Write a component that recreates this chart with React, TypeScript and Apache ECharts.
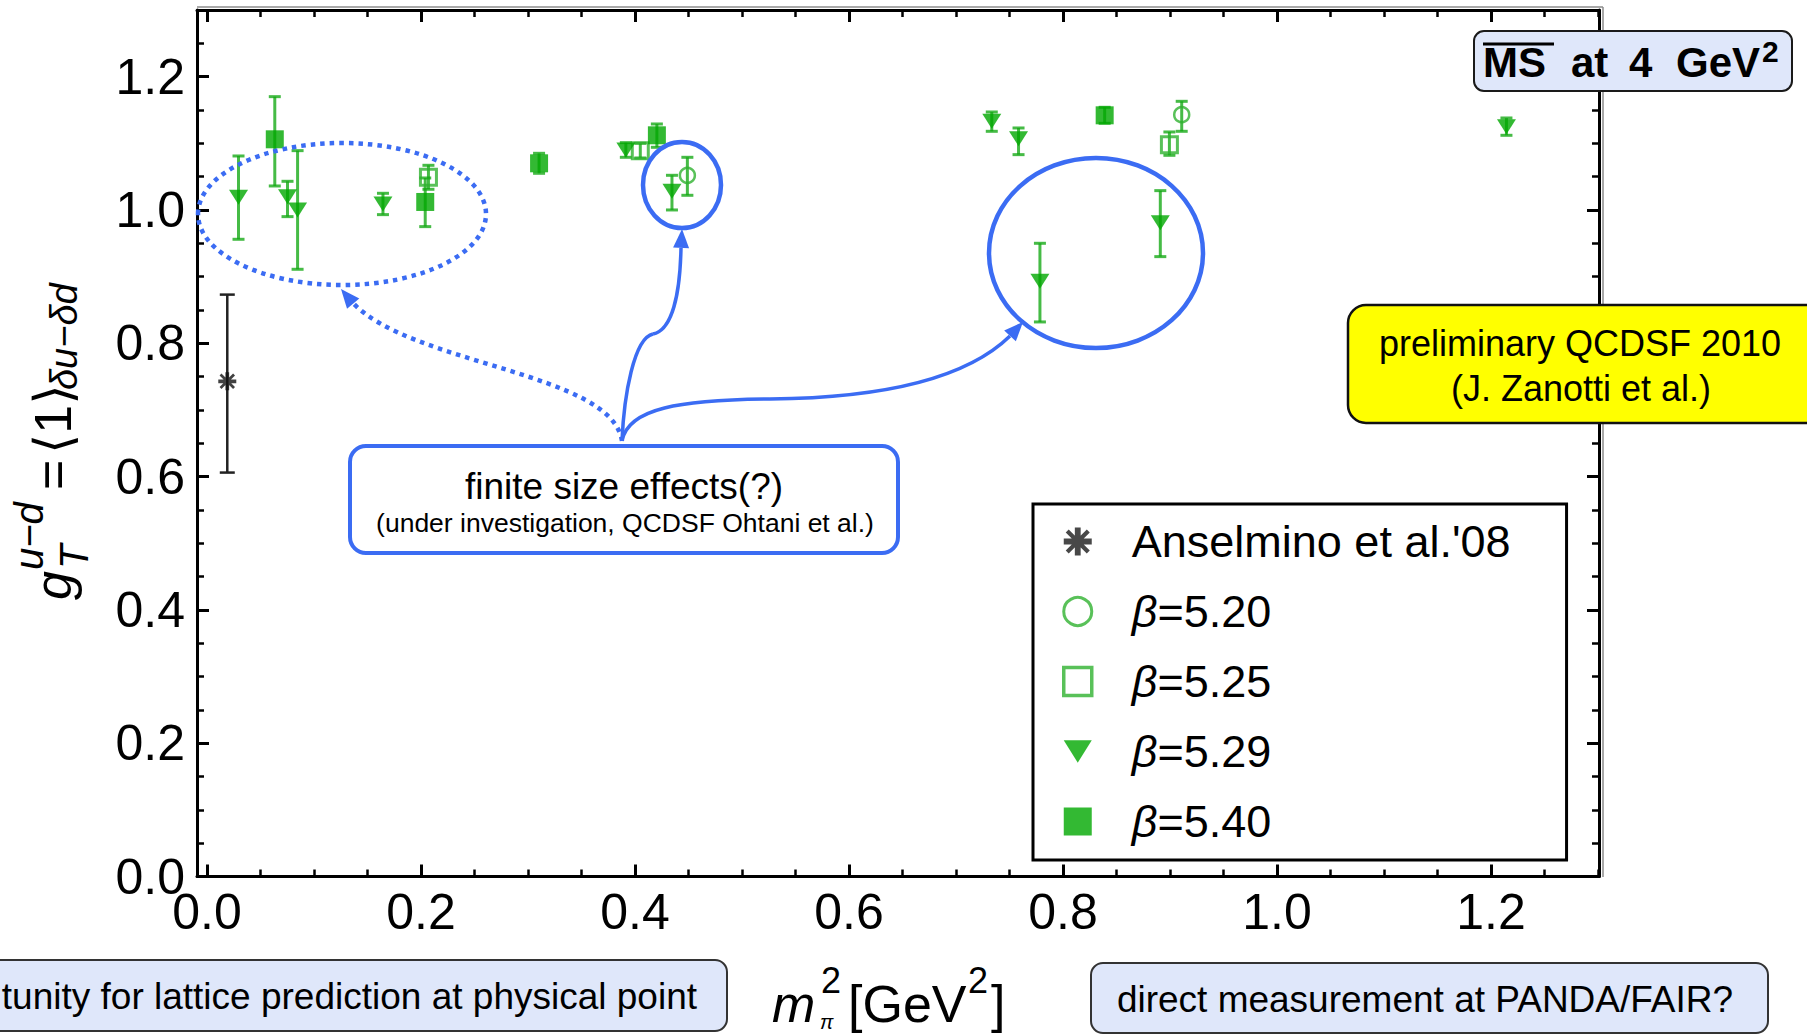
import React, { useEffect, useRef } from "react";
import * as echarts from "echarts";

const FONT = "'Liberation Sans', Arial, Helvetica, sans-serif";
const MATH_FONT = "'Liberation Sans', 'DejaVu Sans', sans-serif";

// Each point: [m_pi^2 (GeV^2), g_T, lower limit, upper limit]
const anselmino08 = [[0.019, 0.743, 0.606, 0.873]];
const beta520 = [
  [0.449, 1.052, 1.022, 1.079],
  [0.911, 1.143, 1.118, 1.163],
];
const beta525 = [
  [0.207, 1.049, 1.031, 1.067],
  [0.405, 1.089, 1.078, 1.1],
  [0.8995, 1.098, 1.082, 1.117],
];
const beta529 = [
  [0.0295, 1.019, 0.956, 1.081],
  [0.0753, 1.02, 0.99, 1.043],
  [0.0847, 1.0, 0.911, 1.089],
  [0.1645, 1.009, 0.993, 1.025],
  [0.3915, 1.09, 1.079, 1.101],
  [0.4346, 1.028, 1.0, 1.052],
  [0.7335, 1.133, 1.118, 1.147],
  [0.7585, 1.107, 1.083, 1.123],
  [0.7785, 0.893, 0.832, 0.95],
  [0.891, 0.981, 0.93, 1.029],
  [1.2145, 1.125, 1.112, 1.138],
];
const beta540 = [
  [0.0634, 1.106, 1.036, 1.17],
  [0.204, 1.012, 0.975, 1.048],
  [0.3104, 1.07, 1.055, 1.085],
  [0.4205, 1.112, 1.094, 1.129],
  [0.839, 1.142, 1.13, 1.154],
];

const seriesNames = ["Anselmino et al.'08", "β=5.20", "β=5.25", "β=5.29", "β=5.40"];

const X_MIN = -0.0093;
const X_MAX = 1.301;
const Y_MIN = 0;
const Y_MAX = 1.3;

const GREEN = "#00a800";
const OPEN_GREEN = "#2fb22f";
const BAR_GREEN = "rgba(18,168,18,0.78)";
const BLUE = "#3b6cf3";
const PANEL_BLUE = "#dfe7fa";

const STAR =
  "path://M9.5,0H14.5V24H9.5Z M0,9.5H24V14.5H0Z M4.25,1.7L22.3,19.75L19.75,22.3L1.7,4.25Z M19.75,1.7L22.3,4.25L4.25,22.3L1.7,19.75Z";
const DOWN_TRIANGLE = "path://M0,0L20,0L10,16Z";

function errorBars(name: string, data: number[][], color: string, cap: number, width: number) {
  return {
    type: "custom",
    name: name + " error",
    silent: true,
    z: 3,
    data: data.map((d) => [d[0], d[2], d[3]]),
    encode: { x: 0, y: [1, 2] },
    renderItem: (_params: any, api: any) => {
      const x = api.value(0);
      const lo = api.coord([x, api.value(1)]);
      const hi = api.coord([x, api.value(2)]);
      const style = { stroke: color, lineWidth: width };
      return {
        type: "group",
        children: [
          { type: "line", shape: { x1: lo[0], y1: lo[1], x2: hi[0], y2: hi[1] }, style },
          { type: "line", shape: { x1: lo[0] - cap, y1: lo[1], x2: lo[0] + cap, y2: lo[1] }, style },
          { type: "line", shape: { x1: hi[0] - cap, y1: hi[1], x2: hi[0] + cap, y2: hi[1] }, style },
        ],
      };
    },
  };
}

function points(name: string, data: number[][], symbol: string, size: any, itemStyle: any) {
  return {
    type: "scatter",
    name,
    z: 5,
    symbol,
    symbolSize: size,
    itemStyle,
    data: data.map((d) => [d[0], d[1]]),
  };
}

// text placed by its alphabetic baseline
function baseText(text: string, x: number, yb: number, size: number, opts: any = {}) {
  return {
    type: "text",
    x,
    y: yb - 0.35 * size,
    z: 120,
    style: {
      text,
      fill: "#000",
      fontSize: size,
      fontFamily: opts.family || MATH_FONT,
      fontStyle: opts.italic ? "italic" : "normal",
      fontWeight: opts.bold ? "bold" : "normal",
      align: opts.align || "left",
      textAlign: opts.align || "left",
      verticalAlign: "middle",
      textVerticalAlign: "middle",
    },
  };
}

function centerText(text: string, x: number, y: number, size: number, opts: any = {}) {
  return {
    type: "text",
    x,
    y,
    z: 120,
    style: {
      text,
      fill: "#000",
      fontSize: size,
      fontFamily: FONT,
      fontWeight: opts.bold ? "bold" : "normal",
      align: opts.align || "center",
      textAlign: opts.align || "center",
      verticalAlign: "middle",
      textVerticalAlign: "middle",
    },
  };
}

function box(x: number, y: number, w: number, h: number, r: number, fill: string, stroke: string, lw: number) {
  return {
    type: "rect",
    z: 100,
    shape: { x, y, width: w, height: h, r },
    style: { fill, stroke, lineWidth: lw },
  };
}

function arrowHead(tip: number[], from: number[], len = 19, half = 8) {
  const dx = tip[0] - from[0];
  const dy = tip[1] - from[1];
  const l = Math.hypot(dx, dy);
  const ux = dx / l;
  const uy = dy / l;
  const bx = tip[0] - ux * len;
  const by = tip[1] - uy * len;
  return {
    type: "polygon",
    z: 105,
    shape: { points: [tip, [bx - uy * half, by + ux * half], [bx + uy * half, by - ux * half]] },
    style: { fill: BLUE },
  };
}

function curve(p0: number[], c1: number[], c2: number[], p1: number[], dashed = false) {
  return {
    type: "bezierCurve",
    z: 104,
    shape: { x1: p0[0], y1: p0[1], cpx1: c1[0], cpy1: c1[1], cpx2: c2[0], cpy2: c2[1], x2: p1[0], y2: p1[1] },
    style: dashed
      ? { stroke: BLUE, fill: "none", lineWidth: 4.5, lineDash: [4.5, 5] }
      : { stroke: BLUE, fill: "none", lineWidth: 3.5 },
  };
}

function ring(cx: number, cy: number, rx: number, ry: number, dashed = false) {
  return {
    type: "ellipse",
    z: 104,
    shape: { cx, cy, rx, ry },
    style: dashed
      ? { stroke: BLUE, fill: "none", lineWidth: 4.5, lineDash: [4.5, 5] }
      : { stroke: BLUE, fill: "none", lineWidth: 4.5 },
  };
}

const graphics: any[] = [
  // thin outer edge around the frame
  { type: "line", z: 90, shape: { x1: 197, y1: 7, x2: 1603, y2: 7 }, style: { stroke: "#8c8c8c", lineWidth: 1.5 } },
  { type: "line", z: 90, shape: { x1: 1603, y1: 7, x2: 1603, y2: 877 }, style: { stroke: "#8c8c8c", lineWidth: 1.5 } },

  // highlighted groups of points
  ring(342, 214, 144, 71, true),
  ring(682, 185, 39, 43),
  ring(1096, 253, 107, 95),

  // arrows from the note box
  curve([622, 441], [612, 372], [410, 365], [352, 302], true),
  arrowHead([341, 289], [356, 307]),
  curve([622, 441], [624, 395], [634, 338], [653, 334]),
  curve([653, 334], [672, 330], [680, 295], [681, 248]),
  arrowHead([682, 229], [681, 250]),
  curve([622, 441], [628, 408], [680, 400], [770, 399]),
  curve([770, 399], [880, 398], [965, 380], [1010, 336]),
  arrowHead([1023, 322], [1008, 338]),

  // note box
  box(350, 446, 548, 107, 16, "#ffffff", BLUE, 4),
  centerText("finite size effects(?)", 624, 486, 37),
  centerText("(under investigation, QCDSF Ohtani et al.)", 625, 523, 26.5),

  // scheme box
  box(1474, 31, 318, 60, 10, PANEL_BLUE, "#1a1a1a", 2),
  baseText("MS", 1483, 77, 42, { family: FONT, bold: true }),
  { type: "line", z: 121, shape: { x1: 1483, y1: 44, x2: 1554, y2: 44 }, style: { stroke: "#000", lineWidth: 3 } },
  baseText("at", 1571, 77, 42, { family: FONT, bold: true }),
  baseText("4", 1629, 77, 42, { family: FONT, bold: true }),
  baseText("GeV", 1676, 77, 42, { family: FONT, bold: true }),
  baseText("2", 1762, 62, 30, { family: FONT, bold: true }),

  // source box
  box(1348, 305, 490, 118, 18, "#ffff00", "#111", 2.5),
  centerText("preliminary QCDSF 2010", 1580, 343, 36),
  centerText("(J. Zanotti et al.)", 1581, 388, 36),

  // bottom notes
  box(-30, 960, 757, 71, 12, PANEL_BLUE, "#333", 2),
  centerText("tunity for lattice prediction at physical point", 697, 996, 37, { align: "right" }),
  box(1091, 963, 677, 70, 12, PANEL_BLUE, "#333", 2),
  centerText("direct measurement at PANDA/FAIR?", 1425, 999, 37),

  // x-axis title: m_pi^2 [GeV^2]
  baseText("m", 772, 1022, 52, { italic: true }),
  baseText("2", 821, 993, 36),
  baseText("π", 820, 1029, 20, { italic: true }),
  baseText("[GeV", 848, 1022, 52),
  baseText("2", 968, 993, 36),
  baseText("]", 991, 1022, 52),

  // y-axis title: g_T^{u-d} = <1>_{du-dd}, reading upward
  {
    type: "group",
    x: 71,
    y: 600,
    rotation: Math.PI / 2,
    z: 120,
    children: [
      baseText("g", 0, 0, 52, { italic: true }),
      baseText("T", 31, 17, 40, { italic: true }),
      baseText("u−d", 30, -28, 40, { italic: true }),
      baseText("=", 110, 0, 52),
      baseText("⟨1⟩", 146, 0, 52),
      baseText("δu−δd", 210, 6, 38, { italic: true }),
    ],
  },
];

const axisCommon = {
  type: "value",
  min: X_MIN,
  max: X_MAX,
  splitNumber: 6,
  splitLine: { show: false },
  axisLine: { show: true, onZero: false, lineStyle: { color: "#000", width: 3 } },
  axisTick: { show: true, inside: true, length: 12, lineStyle: { color: "#000", width: 3 } },
  minorTick: { show: true, splitNumber: 4, length: 7, lineStyle: { color: "#000", width: 2.5 } },
  minorSplitLine: { show: false },
};

const yCommon = {
  type: "value",
  min: Y_MIN,
  max: Y_MAX,
  interval: 0.2,
  splitLine: { show: false },
  axisLine: { show: true, onZero: false, lineStyle: { color: "#000", width: 3 } },
  axisTick: { show: true, inside: true, length: 12, lineStyle: { color: "#000", width: 3 } },
  minorTick: { show: true, splitNumber: 4, length: 7, lineStyle: { color: "#000", width: 2.5 } },
  minorSplitLine: { show: false },
};

const option: any = {
  animation: false,
  backgroundColor: "#ffffff",
  grid: { left: 197, top: 10, width: 1402, height: 866.5, containLabel: false, outerBoundsMode: "none" },
  xAxis: [
    {
      ...axisCommon,
      position: "bottom",
      axisLabel: {
        show: true,
        margin: 10,
        fontSize: 50,
        fontFamily: FONT,
        color: "#000",
        showMinLabel: false,
        showMaxLabel: false,
        formatter: (v: number) => v.toFixed(1),
      },
    },
    { ...axisCommon, position: "top", axisLabel: { show: false } },
  ],
  yAxis: [
    {
      ...yCommon,
      position: "left",
      axisLabel: {
        show: true,
        margin: 12,
        fontSize: 50,
        fontFamily: FONT,
        color: "#000",
        showMaxLabel: false,
        formatter: (v: number) => v.toFixed(1),
      },
    },
    { ...yCommon, position: "right", axisLabel: { show: false } },
  ],
  legend: {
    data: [
      { name: seriesNames[0], icon: STAR, itemStyle: { color: "#1a1a1a", borderWidth: 0 } },
      { name: seriesNames[1], icon: "circle", itemStyle: { color: "rgba(255,255,255,0)", borderColor: OPEN_GREEN, borderWidth: 3 } },
      { name: seriesNames[2], icon: "rect", itemStyle: { color: "rgba(255,255,255,0)", borderColor: OPEN_GREEN, borderWidth: 3.5 } },
      { name: seriesNames[3], icon: DOWN_TRIANGLE, itemStyle: { color: GREEN, borderWidth: 0 } },
      { name: seriesNames[4], icon: "rect", itemStyle: { color: GREEN, borderWidth: 0 } },
    ],
    orient: "vertical",
    left: 1033,
    top: 504,
    padding: [15, 56, 16, 29],
    itemGap: 25,
    itemWidth: 28,
    itemHeight: 28,
    borderColor: "#000",
    borderWidth: 3,
    backgroundColor: "#fff",
    selectedMode: false,
    z: 50,
    formatter: (name: string) => (name.startsWith("β") ? "{b|β}" + name.slice(1) : name),
    textStyle: {
      fontFamily: FONT,
      fontSize: 45,
      color: "#000",
      padding: [0, 0, 0, 35],
      rich: { b: { fontFamily: FONT, fontSize: 45, fontStyle: "italic", color: "#000" } },
    },
  },
  graphic: graphics,
  series: [
    errorBars(seriesNames[0], anselmino08, "#222", 7.5, 2.5),
    errorBars(seriesNames[1], beta520, BAR_GREEN, 6, 3),
    errorBars(seriesNames[2], beta525, BAR_GREEN, 6, 3),
    errorBars(seriesNames[3], beta529, BAR_GREEN, 6, 3),
    errorBars(seriesNames[4], beta540, BAR_GREEN, 6, 3),
    points(seriesNames[0], anselmino08, STAR, 18, { color: "#111" }),
    points(seriesNames[1], beta520, "circle", 15, { color: "rgba(255,255,255,0)", borderColor: OPEN_GREEN, borderWidth: 2.5 }),
    points(seriesNames[2], beta525, "rect", 16, { color: "rgba(255,255,255,0)", borderColor: OPEN_GREEN, borderWidth: 3 }),
    points(seriesNames[3], beta529, DOWN_TRIANGLE, [19, 15], { color: GREEN }),
    points(seriesNames[4], beta540, "rect", 18, { color: GREEN }),
  ],
};

export default function App() {
  const ref = useRef<HTMLDivElement>(null);
  useEffect(() => {
    if (!ref.current) return;
    const chart = echarts.init(ref.current, null, { renderer: "svg" });
    chart.setOption(option);
    return () => chart.dispose();
  }, []);
  return (
    <div
      ref={ref}
      style={{ position: "fixed", left: 0, top: 0, width: 1807, height: 1036, background: "#fff" }}
    />
  );
}
